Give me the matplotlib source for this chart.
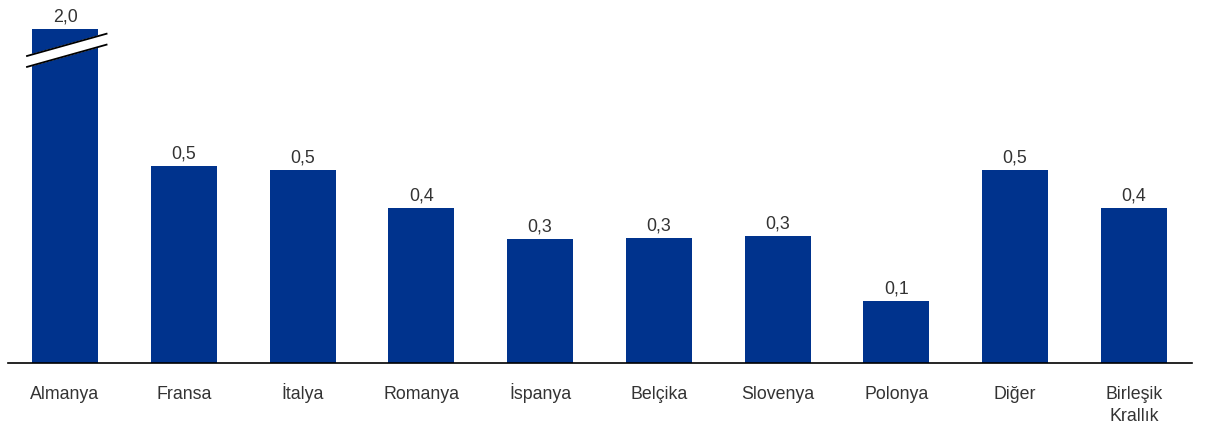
import matplotlib
matplotlib.use("Agg")
from matplotlib import pyplot as plt

plt.rcParams['font.family'] = ['Liberation Sans', 'DejaVu Sans']

countries = ['Almanya', 'Fransa', 'İtalya', 'Romanya', 'İspanya', 'Belçika',
             'Slovenya', 'Polonya', 'Diğer', 'Birleşik\nKrallık']
values = [2.0, 0.47, 0.46, 0.37, 0.295, 0.298, 0.302, 0.148, 0.46, 0.37]

# Almanya is cut at this height on the axis
cap = 0.795
bar_color = '#00338d'
text_color = '#333333'

fig = plt.figure(figsize=(12.18, 4.27), dpi=100)
ax = fig.add_axes([8 / 1218, 63 / 427, 1184 / 1218, 364 / 427])

shown = [min(v, cap) for v in values]
x = list(range(len(countries)))
ax.bar(x, shown, width=0.556, color=bar_color, zorder=2)

for xi, v, s in zip(x, values, shown):
    label = f'{v:.1f}'.replace('.', ',')
    ax.annotate(label, (xi, s), xytext=(0, 3), textcoords='offset points',
                ha='center', va='bottom', fontsize=12.8, color=text_color)

# category names, each line put on its own baseline
for xi, name in zip(x, countries):
    for i, line in enumerate(name.split('\n')):
        ax.annotate(line, (xi, 0), xycoords=('data', 'axes fraction'),
                    xytext=(0, -35 - 22 * i), textcoords='offset pixels',
                    ha='center', va='baseline', fontsize=12.8, color=text_color)

# break marker on the capped bar
for xi, v in zip(x, values):
    if v > cap:
        x0, x1 = xi - 0.32, xi + 0.35
        y_low = cap - 0.09
        gap = 0.026
        rise = 0.053
        ax.fill([x0, x1, x1, x0],
                [y_low, y_low + rise, y_low + rise + gap, y_low + gap],
                color='white', zorder=3, clip_on=False)
        ax.plot([x0, x1], [y_low, y_low + rise], color='black', lw=1.3, zorder=4)
        ax.plot([x0, x1], [y_low + gap, y_low + rise + gap], color='black',
                lw=1.3, zorder=4)

ax.set_xlim(-0.48, 9.49)
ax.set_ylim(0, 364 / 420)
ax.set_xticks([])
ax.set_yticks([])
for side in ['top', 'right', 'left']:
    ax.spines[side].set_visible(False)
ax.spines['bottom'].set_color('black')
ax.spines['bottom'].set_linewidth(1.2)
ax.patch.set_alpha(0)

fig.savefig('out.png', dpi=100)
